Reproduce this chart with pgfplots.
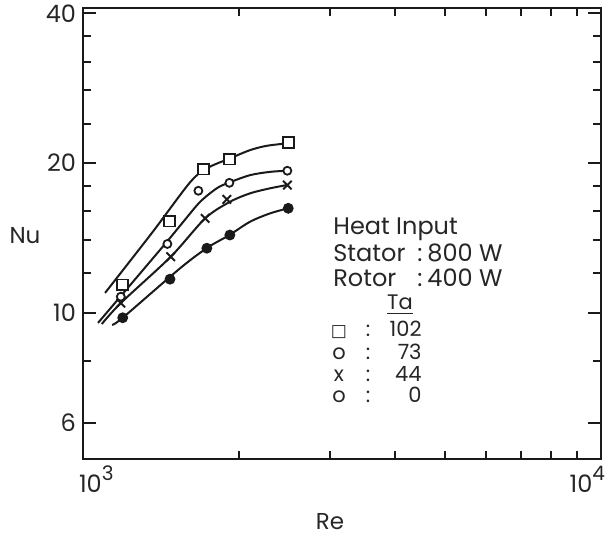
\documentclass[border=0pt]{standalone}
\usepackage{pgfplots}
\pgfplotsset{compat=1.18}
\usepackage{fontspec}
\setmainfont{Poppins}
\newfontfamily\symfont{DejaVu Sans}
\definecolor{ink}{HTML}{1A1A1A}
\definecolor{txt}{HTML}{262626}
\begin{document}
\begin{tikzpicture}
\begin{axis}[
  at={(0pt,0pt)}, anchor=south west,
  scale only axis, width=259pt, height=225.5pt,
  xmode=log, ymode=log,
  xmin=1000, xmax=10000, ymin=5.08, ymax=41,
  axis line style={line width=1.2pt, draw=ink},
  tick align=inside,
  xtick pos=both, ytick pos=both,
  major tick length=6.5pt, minor tick length=4pt,
  every major tick/.style={line width=1.1pt, draw=ink},
  every minor tick/.style={line width=1pt, draw=ink},
  xtick={1000,10000},
  xticklabels={{\rlap{\hspace{-2pt}10\raisebox{6pt}{\fontsize{10}{10}\selectfont 3}}},{\llap{10\raisebox{6pt}{\fontsize{10}{10}\selectfont 4}\hspace{-2pt}}}},
  minor xtick={2000,3000,4000,5000,6000,7000,8000,9000},
  ytick={6,10,20,40}, yticklabels={6,10,20,40},
  minor ytick={8,12,14,16,18,24,28,32,36},
  ticklabel style={font=\fontsize{12}{14}\selectfont, text=txt},
]
% fitted curves
\addplot[ink, line width=1pt, smooth, tension=0.5] coordinates {
 (1103,10.96) (1357,14.45) (1610,18.30) (1740,19.55) (1921,20.43) (2101,21.23) (2263,21.66) (2473,21.90)};
\addplot[ink, line width=1pt, smooth, tension=0.5] coordinates {
 (1069,9.54) (1183,10.80) (1440,13.75) (1562,15.24) (1683,16.71) (1812,17.79) (1909,18.25) (2101,18.91) (2296,19.20) (2473,19.30)};
\addplot[ink, line width=1pt, smooth, tension=0.5] coordinates {
 (1087,9.49) (1183,10.46) (1477,12.96) (1721,15.48) (1921,16.71) (2101,17.38) (2296,17.79) (2473,18.06)};
\addplot[ink, line width=1pt, smooth, tension=0.5] coordinates {
 (1138,9.45) (1193,9.77) (1539,12.28) (1738,13.51) (1917,14.33) (2101,15.24) (2296,15.84) (2490,16.22)};
% data points
\addplot[only marks, mark=square*, mark size=2.7pt, mark options={line width=0.9pt, fill=white, draw=ink}] coordinates {
 (1193,11.37) (1468,15.29) (1708,19.45) (1917,20.37) (2490,21.97)};
\addplot[only marks, mark=*, mark size=2pt, mark options={line width=0.9pt, fill=white, draw=ink}] coordinates {
 (1183,10.77) (1455,13.75) (1670,17.59) (1917,18.25) (2480,19.30)};
\addplot[only marks, mark=x, mark size=3pt, mark options={line width=1pt, draw=ink}] coordinates {
 (1183,10.46) (1477,12.96) (1721,15.48) (1895,16.90) (2480,18.06)};
\addplot[only marks, mark=*, mark size=2.3pt, mark options={line width=0.8pt, fill=ink, draw=ink}] coordinates {
 (1193,9.77) (1472,11.68) (1734,13.48) (1921,14.33) (2490,16.22)};
\end{axis}
% axis titles
\node[font=\fontsize{11.5}{13}\selectfont, text=txt] at (-29pt,111.5pt) {Nu};
\node[font=\fontsize{11.5}{13}\selectfont, text=txt] at (123.5pt,-31.5pt) {Re};
% annotation block
\begin{scope}[every node/.style={inner sep=0pt, text=txt, font=\fontsize{12}{14}\selectfont}]
\node[anchor=base west] at (125pt,112pt) {Heat Input};
\node[anchor=base west] at (125pt,98.5pt) {Stator};
\node[anchor=base] at (168.5pt,98.5pt) {:};
\node[anchor=base west] at (172pt,98.5pt) {800 W};
\node[anchor=base west] at (125pt,86pt) {Rotor};
\node[anchor=base] at (168.5pt,86pt) {:};
\node[anchor=base west] at (172pt,86pt) {400 W};
\end{scope}
\begin{scope}[every node/.style={inner sep=0pt, text=txt, font=\fontsize{10.5}{12}\selectfont}]
\node[anchor=base] at (158.5pt,74.5pt) {\underline{Ta}};
\node[anchor=base] at (128pt,61pt) {{\symfont\fontsize{8.5}{10}\selectfont □}};
\node[anchor=base] at (142.5pt,61pt) {:};
\node[anchor=base east] at (169.5pt,61pt) {102};
\node[anchor=base] at (128pt,49.5pt) {o};
\node[anchor=base] at (142.5pt,49.5pt) {:};
\node[anchor=base east] at (169.5pt,49.5pt) {73};
\node[anchor=base] at (128pt,38.5pt) {x};
\node[anchor=base] at (142.5pt,38.5pt) {:};
\node[anchor=base east] at (169.5pt,38.5pt) {44};
\node[anchor=base] at (128pt,28pt) {o};
\node[anchor=base] at (142.5pt,28pt) {:};
\node[anchor=base east] at (169.5pt,28pt) {0};
\end{scope}
\pgfresetboundingbox
\path (-41.5pt,-38pt) rectangle (261pt,229.5pt);
\end{tikzpicture}
\end{document}
